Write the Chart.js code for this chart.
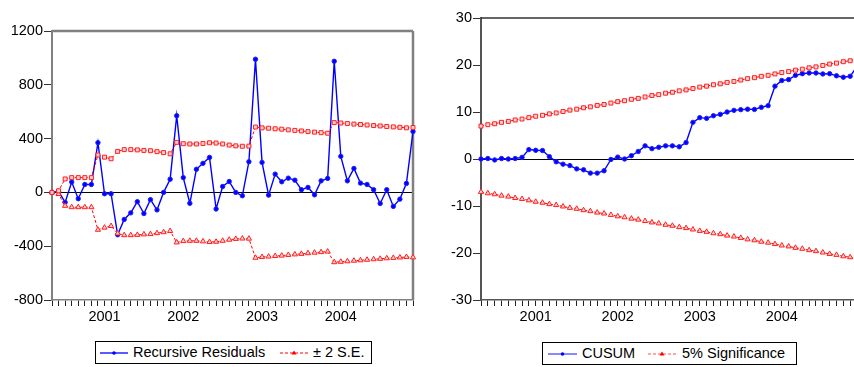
<!DOCTYPE html>
<html>
<head>
<meta charset="utf-8">
<script src="https://cdn.jsdelivr.net/npm/chart.js@4/dist/chart.umd.min.js"></script>
<style>
  html, body { margin: 0; padding: 0; background: #fff; overflow: hidden; }
  body { width: 854px; height: 367px; position: relative; font-family: "Liberation Sans", Arial, sans-serif; }
  #leftChart { position: absolute; left: 0; top: 0; }
  #rightChart { position: absolute; left: 430px; top: 0; }
  .legend { position: absolute; height: 23px; border: 1px solid #000; box-sizing: border-box; background: #fff; }
  .legend svg { position: absolute; top: 5px; }
  .legend span { position: absolute; top: 0; line-height: 21px; font-size: 14.5px; color: #000; white-space: nowrap; }
</style>
</head>
<body>
<canvas id="leftChart" width="430" height="330"></canvas>
<canvas id="rightChart" width="432" height="330"></canvas>

<div class="legend" style="left:95px; top:341px; width:277px;">
  <svg width="30" height="12" style="left:4px">
    <line x1="0" y1="6" x2="28" y2="6" stroke="#0000ff" stroke-width="1.3"/>
    <circle cx="14" cy="6" r="1.8" fill="#0000ff"/>
  </svg>
  <span style="left:37px">Recursive Residuals</span>
  <svg width="30" height="12" style="left:184px">
    <line x1="0" y1="6" x2="28" y2="6" stroke="#ff0000" stroke-width="1" stroke-dasharray="3,2"/>
    <path d="M14 3.5 L16.5 7.5 L11.5 7.5 Z" fill="#ff0000"/>
  </svg>
  <span style="left:217px">± 2 S.E.</span>
</div>

<div class="legend" style="left:542px; top:342px; width:255px;">
  <svg width="30" height="12" style="left:5px">
    <line x1="0" y1="6" x2="29" y2="6" stroke="#4b4bff" stroke-width="1.3"/>
    <circle cx="14.5" cy="6" r="1.8" fill="#0000ff"/>
  </svg>
  <span style="left:39px">CUSUM</span>
  <svg width="30" height="12" style="left:105px">
    <line x1="0" y1="6" x2="28" y2="6" stroke="#ff5050" stroke-width="1" stroke-dasharray="3,2"/>
    <path d="M14 3.5 L16.5 7.5 L11.5 7.5 Z" fill="#ff0000"/>
  </svg>
  <span style="left:139px">5% Significance</span>
</div>

<script>
/* =========================
   DATA
========================= */

const periods = [
  "2000M05", "2000M06", "2000M07", "2000M08", "2000M09", "2000M10", "2000M11", "2000M12",
  "2001M01", "2001M02", "2001M03", "2001M04", "2001M05", "2001M06", "2001M07", "2001M08", "2001M09", "2001M10", "2001M11", "2001M12",
  "2002M01", "2002M02", "2002M03", "2002M04", "2002M05", "2002M06", "2002M07", "2002M08", "2002M09", "2002M10", "2002M11", "2002M12",
  "2003M01", "2003M02", "2003M03", "2003M04", "2003M05", "2003M06", "2003M07", "2003M08", "2003M09", "2003M10", "2003M11", "2003M12",
  "2004M01", "2004M02", "2004M03", "2004M04", "2004M05", "2004M06", "2004M07", "2004M08", "2004M09", "2004M10", "2004M11", "2004M12",
];

const recursiveResiduals = [
  0, 8, -74, 77, -47, 59, 59, 370, -10, -10,
  -315, -201, -152, -69, -157, -54, -130, 0, 98, 570,
  110, -81, 172, 216, 260, -123, 44, 81, 0, -25,
  228, 990, 223, -20, 136, 79, 106, 91, 20, 37,
  -18, 86, 104, 975, 268, 86, 178, 69, 59, 20,
  -82, 20, -104, -50, 67, 453,
];

// two standard errors (band is +/- this)
const twoSE = [
  0, 12, 100, 110, 110, 110, 110, 278, 262, 250,
  305, 318, 318, 316, 312, 310, 303, 296, 287, 372,
  362, 360, 360, 364, 369, 367, 360, 352, 346, 343,
  344, 486, 480, 477, 473, 470, 465, 461, 457, 452,
  448, 444, 440, 519, 516, 512, 508, 505, 501, 497,
  494, 490, 487, 484, 480, 483,
];

const cusum = [
  0, 0.1, -0.2, 0.1, 0, 0.1, 0.35, 2.0, 1.85, 1.8,
  0.5, -0.6, -1.1, -1.4, -2.1, -2.3, -3.0, -3.0, -2.5, -0.1,
  0.4, 0, 0.7, 1.6, 2.8, 2.2, 2.5, 2.8, 2.8, 2.6,
  3.5, 7.8, 8.8, 8.65, 9.2, 9.5, 10.0, 10.35, 10.5, 10.6,
  10.55, 11.0, 11.35, 15.5, 16.7, 16.9, 17.8, 18.15, 18.3, 18.3,
  18.1, 18.15, 17.7, 17.4, 17.6, 19.7,
];

// 5% significance band (+/- this)
const sigBound = [
  7.0, 7.3, 7.5, 7.8, 8.0, 8.3, 8.5, 8.8, 9.1, 9.3,
  9.6, 9.8, 10.1, 10.4, 10.6, 10.9, 11.1, 11.4, 11.6, 11.9,
  12.2, 12.4, 12.7, 12.9, 13.2, 13.5, 13.7, 14.0, 14.2, 14.5,
  14.7, 15.0, 15.3, 15.5, 15.8, 16.0, 16.3, 16.5, 16.8, 17.1,
  17.3, 17.6, 17.8, 18.1, 18.4, 18.6, 18.9, 19.1, 19.4, 19.6,
  19.9, 20.2, 20.4, 20.7, 20.9, 21.2,
];

const leftTicks = { min: -800, max: 1200, step: 400 };
const rightTicks = { min: -30, max: 30, step: 10 };

/* =========================
   HELPERS
========================= */

const FONT = { family: "'Liberation Sans', Arial, sans-serif", size: 14.5 };

const zeroLine = {
  id: "zeroLine",
  beforeDatasetsDraw(chart) {
    const { ctx, chartArea } = chart;
    const y = Math.round(chart.scales.y.getPixelForValue(0)) + 0.5;
    ctx.save();
    ctx.strokeStyle = "#000";
    ctx.lineWidth = 1;
    ctx.beginPath();
    ctx.moveTo(chartArea.left, y);
    ctx.lineTo(chartArea.right, y);
    ctx.stroke();
    ctx.restore();
  },
};

function frame(topColor, topWidth, rightColor, rightWidth) {
  return {
    id: "frame",
    beforeDatasetsDraw(chart) {
      const { ctx, chartArea } = chart;
      ctx.save();
      ctx.strokeStyle = topColor;
      ctx.lineWidth = topWidth;
      ctx.beginPath();
      ctx.moveTo(chartArea.left, chartArea.top);
      ctx.lineTo(chartArea.right, chartArea.top);
      ctx.stroke();
      ctx.strokeStyle = rightColor;
      ctx.lineWidth = rightWidth;
      ctx.beginPath();
      ctx.moveTo(chartArea.right, chartArea.top);
      ctx.lineTo(chartArea.right, chartArea.bottom);
      ctx.stroke();
      ctx.restore();
    },
  };
}

function blueSeries(label, data) {
  return {
    label: label,
    data: data,
    borderColor: "#0000ff",
    backgroundColor: "#0000ff",
    borderWidth: 1.4,
    pointStyle: "circle",
    pointRadius: 2.2,
    pointBorderWidth: 1,
    pointBorderColor: "#2020ff",
    pointBackgroundColor: "#0000ff",
    tension: 0,
    clip: 8,
  };
}

function redSeries(label, data, marker) {
  return {
    label: label,
    data: data,
    borderColor: "#ff0000",
    backgroundColor: "#ffffff",
    borderWidth: 1,
    borderDash: [3, 2],
    pointStyle: marker,
    pointRadius: marker === "rect" ? 2.8 : 3.0,
    pointBorderWidth: 1,
    pointBorderColor: "#ff2020",
    pointBackgroundColor: "#ffd0d0",
    tension: 0,
    clip: 8,
  };
}

function scalesFor(ticks, yWidth, axisColor) {
  return {
    x: {
      type: "category",
      offset: false,
      afterFit(scale) { scale.height = 30; },
      border: { color: axisColor, width: 1.5 },
      grid: { drawOnChartArea: false, drawTicks: true, tickLength: 6, color: "#222", lineWidth: 1 },
      ticks: {
        autoSkip: false,
        maxRotation: 0,
        padding: 2,
        color: "#000",
        font: FONT,
        callback: function (value) {
          const p = periods[value];
          return p.endsWith("M01") ? p.slice(0, 4) : "";
        },
      },
    },
    y: {
      min: ticks.min,
      max: ticks.max,
      afterFit(scale) { scale.width = yWidth; },
      border: { color: axisColor, width: 2 },
      grid: { drawOnChartArea: false, drawTicks: true, tickLength: 8, color: "#333", lineWidth: 1 },
      ticks: {
        stepSize: ticks.step,
        padding: 1,
        color: "#000",
        font: FONT,
        callback: (value) => String(value),
      },
    },
  };
}

/* =========================
   RECURSIVE RESIDUALS
========================= */

new Chart(document.getElementById("leftChart"), {
  type: "line",
  data: {
    labels: periods,
    datasets: [
      redSeries("+2 S.E.", twoSE, "rect"),
      redSeries("-2 S.E.", twoSE.map((v) => -v), "triangle"),
      blueSeries("Recursive Residuals", recursiveResiduals),
    ],
  },
  options: {
    responsive: false,
    animation: false,
    devicePixelRatio: 1,
    layout: { padding: { left: 0, top: 31, right: 17, bottom: 0 } },
    plugins: { legend: { display: false }, tooltip: { enabled: false } },
    scales: scalesFor(leftTicks, 52, "#808080"),
  },
  plugins: [zeroLine, frame("#808080", 2.5, "#808080", 2.5)],
});

/* =========================
   CUSUM
========================= */

new Chart(document.getElementById("rightChart"), {
  type: "line",
  data: {
    labels: periods,
    datasets: [
      redSeries("+5%", sigBound, "rect"),
      redSeries("-5%", sigBound.map((v) => -v), "triangle"),
      blueSeries("CUSUM", cusum),
    ],
  },
  options: {
    responsive: false,
    animation: false,
    devicePixelRatio: 1,
    layout: { padding: { left: 0, top: 18, right: 5, bottom: 0 } },
    plugins: { legend: { display: false }, tooltip: { enabled: false } },
    scales: scalesFor(rightTicks, 51, "#555"),
  },
  plugins: [zeroLine, frame("#333", 1.5, "#333", 1.5)],
});
</script>
</body>
</html>
